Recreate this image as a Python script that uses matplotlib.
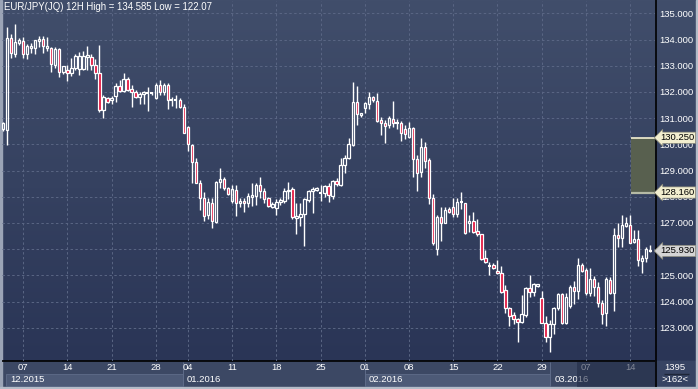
import numpy as np
import matplotlib
matplotlib.use("Agg")
import matplotlib.pyplot as plt
from matplotlib.patches import Rectangle
from matplotlib.colors import LinearSegmentedColormap

plt.rcParams['font.family'] = ['Liberation Sans', 'DejaVu Sans']

title = "EUR/JPY(JQ) 12H High = 134.585 Low = 122.07"

# 12H candles, oldest first
opens = [130.60, 130.55, 134.05, 133.45, 133.85, 133.94, 133.43, 133.66, 133.66, 133.94,
         134.02, 133.66, 133.66, 133.03, 133.63, 132.77, 132.83, 132.74, 132.90, 132.86,
         132.86, 133.33, 133.34, 133.02, 132.71, 131.31, 131.78, 131.70, 131.84, 132.24,
         132.05, 132.48, 132.12, 131.98, 131.82, 131.93, 131.96, 131.95, 131.75, 132.26,
         132.00, 132.26, 131.69, 131.70, 131.71, 131.43, 130.67, 129.97, 129.31, 128.54,
         127.94, 127.30, 127.77, 127.04, 128.57, 128.66, 128.32, 127.85, 128.25, 127.75,
         127.84, 127.75, 128.00, 128.03, 128.45, 128.23, 127.94, 127.62, 127.58, 127.78,
         127.85, 128.20, 128.29, 127.20, 127.24, 127.33, 127.87, 128.20, 128.26, 128.15,
         128.16, 128.41, 128.04, 128.60, 128.45, 129.21, 129.46, 129.97, 131.60, 131.10,
         131.40, 131.54, 131.79, 131.66, 130.93, 130.82, 130.74, 130.95, 130.80, 130.80,
         130.57, 130.29, 130.61, 129.43, 128.96, 129.88, 129.40, 127.96, 126.00, 127.21,
         127.00, 127.52, 127.62, 127.33, 127.78, 127.75, 127.00, 127.07, 126.69, 126.56,
         125.65, 125.36, 125.40, 125.17, 125.08, 124.44, 123.74, 123.49, 123.32, 123.23,
         123.49, 124.50, 124.38, 124.60, 124.12, 123.19, 122.63, 123.13, 123.74, 124.29,
         123.19, 123.83, 124.57, 124.41, 125.39, 125.20, 124.31, 124.86, 124.54, 123.96,
         123.58, 124.82, 124.34, 126.54, 126.41, 126.90, 126.92, 126.26, 126.38, 125.56,
         125.68, 125.95]
highs = [130.85, 134.49, 134.21, 134.585, 134.05, 134.10, 133.82, 133.85, 134.00, 134.15,
         134.15, 134.08, 133.72, 133.70, 133.69, 133.00, 133.02, 133.28, 133.43, 133.51,
         133.56, 133.75, 133.43, 133.25, 133.79, 131.90, 131.82, 131.86, 132.33, 132.45,
         132.74, 132.57, 132.25, 132.07, 132.00, 132.02, 132.20, 132.00, 132.33, 132.45,
         132.33, 132.33, 131.82, 131.88, 131.78, 131.52, 130.70, 130.03, 129.48, 128.63,
         128.19, 127.94, 127.96, 128.60, 129.08, 128.74, 128.38, 128.45, 128.45, 127.97,
         127.94, 128.13, 128.54, 128.51, 128.76, 128.35, 128.00, 127.79, 127.93, 127.94,
         128.32, 128.55, 128.36, 127.75, 127.75, 127.94, 128.25, 128.38, 128.36, 128.45,
         128.45, 128.51, 128.64, 128.70, 129.46, 129.59, 130.23, 132.37, 132.24, 131.21,
         131.63, 131.98, 131.84, 131.95, 131.05, 130.93, 131.08, 131.65, 130.95, 130.90,
         130.74, 130.84, 130.65, 129.59, 130.23, 130.10, 129.46, 128.10, 127.30, 127.62,
         127.62, 127.62, 127.94, 127.96, 128.17, 127.77, 127.30, 127.40, 127.14, 126.58,
         125.97, 125.52, 125.46, 125.58, 125.36, 124.63, 123.80, 123.61, 123.39, 124.25,
         124.57, 125.01, 124.70, 124.68, 124.41, 123.45, 123.29, 123.80, 124.34, 124.34,
         124.31, 124.63, 124.80, 125.65, 125.46, 125.27, 125.27, 124.97, 124.73, 124.06,
         124.92, 124.92, 126.79, 126.98, 127.30, 127.21, 127.30, 126.73, 126.73, 125.78,
         126.09, 126.16]
lows = [130.50, 129.98, 133.28, 133.33, 133.79, 133.30, 133.24, 133.47, 133.43, 133.73,
        133.47, 133.56, 132.75, 132.92, 132.58, 132.68, 132.43, 132.59, 132.83, 132.66,
        132.83, 132.83, 132.83, 132.49, 131.24, 130.99, 131.56, 131.53, 131.62, 132.00,
        131.99, 132.03, 131.43, 131.76, 131.53, 131.53, 131.29, 131.90, 131.72, 131.88,
        131.88, 131.35, 131.47, 131.40, 131.40, 130.42, 129.73, 128.54, 128.51, 127.50,
        127.07, 127.15, 126.80, 127.00, 128.32, 128.27, 128.06, 127.77, 127.28, 127.62,
        127.43, 127.60, 127.66, 127.68, 127.94, 127.77, 127.60, 127.58, 127.30, 127.68,
        127.75, 127.90, 127.14, 126.58, 126.88, 126.12, 127.81, 127.39, 128.22, 127.85,
        128.00, 127.81, 127.90, 128.41, 128.41, 128.89, 129.43, 129.93, 130.74, 131.05,
        131.18, 131.33, 131.60, 130.86, 130.35, 130.04, 130.61, 130.65, 130.60, 130.14,
        130.22, 130.23, 128.74, 128.23, 128.76, 129.08, 127.72, 126.16, 125.78, 126.32,
        126.98, 127.37, 127.24, 127.24, 127.53, 126.58, 126.66, 126.60, 126.50, 125.58,
        125.46, 125.01, 125.23, 125.05, 124.34, 123.58, 123.08, 123.13, 122.47, 123.19,
        123.42, 124.19, 124.22, 124.55, 123.17, 122.47, 122.09, 122.75, 123.68, 123.14,
        123.14, 123.77, 123.91, 124.08, 125.14, 124.25, 124.21, 124.21, 123.80, 123.13,
        123.08, 124.29, 123.65, 126.07, 126.07, 126.86, 126.22, 126.22, 125.36, 125.10,
        125.52, 125.90]
closes = [130.80, 134.05, 133.47, 133.92, 133.97, 133.43, 133.75, 133.75, 133.98, 134.02,
          133.75, 133.75, 133.05, 133.62, 132.77, 132.99, 132.74, 132.90, 133.38, 133.38,
          133.38, 133.40, 133.02, 132.71, 131.31, 131.80, 131.60, 131.78, 132.24, 132.05,
          132.48, 132.07, 131.98, 131.82, 131.93, 131.98, 131.98, 131.97, 132.26, 132.00,
          132.26, 131.69, 131.70, 131.71, 131.43, 130.45, 130.00, 129.31, 128.54, 127.94,
          127.26, 127.78, 127.07, 128.57, 128.66, 128.32, 128.09, 128.29, 127.75, 127.84,
          127.75, 128.03, 128.07, 128.45, 128.23, 127.90, 127.66, 127.71, 127.78, 127.87,
          128.23, 128.26, 127.24, 127.28, 127.34, 127.90, 128.23, 128.28, 128.32, 128.17,
          128.41, 128.07, 128.60, 128.47, 129.21, 129.46, 130.01, 131.60, 131.14, 131.18,
          131.56, 131.79, 131.69, 130.90, 130.80, 130.71, 131.02, 130.80, 130.80, 130.44,
          130.38, 130.61, 129.43, 128.89, 129.88, 129.38, 127.97, 126.22, 127.21, 127.01,
          127.49, 127.40, 127.34, 127.79, 127.80, 126.60, 127.07, 126.67, 126.56, 125.62,
          125.52, 125.37, 125.27, 125.08, 124.38, 123.77, 123.46, 123.32, 123.23, 123.51,
          124.50, 124.38, 124.66, 124.66, 123.19, 122.63, 123.13, 123.74, 124.29, 123.19,
          124.19, 124.57, 124.41, 125.39, 125.18, 124.31, 124.86, 124.54, 123.93, 123.52,
          124.85, 124.34, 126.54, 126.41, 126.92, 126.98, 126.25, 126.38, 125.58, 125.68,
          125.99, 125.93]

tick_pos = [5, 16, 27, 38, 46, 57, 68, 79, 90, 101, 112, 123, 134, 145, 156]
tick_labels = ['07', '14', '21', '28', '04', '11', '18', '25', '01', '08', '15', '22', '29', '07', '14']
month_labels = ['12.2015', '01.2016', '02.2016', '03.2016']
month_edges = [0.7, 44.7, 90.0, 136.1, 162.2]
price_ticks = np.arange(123, 136)

zone_top = 130.25
zone_bottom = 128.16
zone_start = 156.2
last_price = 125.93
total_bars = 1395
dim_from = 142.8

W, H = 698, 389
FS = 6.8


def frac(x0, y0, x1, y1):
    return [x0 / W, 1 - y1 / H, (x1 - x0) / W, (y1 - y0) / H]


fig = plt.figure(figsize=(W / 100, H / 100), dpi=100)
fig.patch.set_facecolor('#3c4864')

# background
bg = fig.add_axes([0, 0, 1, 1], zorder=0)
bg.set_xlim(0, W)
bg.set_ylim(H, 0)
bg.axis('off')
cmap = LinearSegmentedColormap.from_list('bg', ['#414e6b', '#2a3556'])
bg.imshow(np.linspace(0, 1, 256).reshape(-1, 1), cmap=cmap, extent=[0, W, 361, 0], aspect='auto')
bg.add_patch(Rectangle((0, 361), W, 28, color='#3c4864'))
bg.add_patch(Rectangle((655, 361), 41, 26, color='#374463'))
bg.add_patch(Rectangle((0, 0), 2, H, color='#9ba4b6'))
bg.add_patch(Rectangle((0, 387), W, 2, color='#b4bcc8'))
bg.add_patch(Rectangle((696, 0), 2, H, color='#b4bcc8'))
bg.vlines(655.5, 0, 387, color='black', lw=1.2)
bg.hlines(361, 2, 655, color='black', lw=1.2)
bg.text(675, 367, str(total_bars), color='white', fontsize=FS, ha='center', va='center', zorder=5)
bg.hlines(373.5, 664, 689, color='#1e2638', lw=1)
bg.text(675, 379.5, '>%d<' % len(opens), color='white', fontsize=FS, ha='center', va='center', zorder=5)

# price panel
ax = fig.add_axes(frac(2, 1, 655, 361), zorder=1)
ax.set_facecolor('none')
ax.set_xlim(-0.25, 162.2)
ax.set_ylim(121.73, 135.47)
for s in ax.spines.values():
    s.set_visible(False)
ax.set_xticks(tick_pos)
ax.set_yticks(price_ticks)
ax.grid(color='#5a6684', linestyle=(0, (2.5, 2.5)), lw=0.7)
ax.tick_params(axis='x', length=0, labelbottom=False)
ax.yaxis.tick_right()
ax.tick_params(axis='y', length=0, pad=3, labelsize=FS, labelcolor='white')
ax.set_yticklabels(['%.3f' % p for p in price_ticks])

bw = 0.6
for i, (o, h, l, c) in enumerate(zip(opens, highs, lows, closes)):
    top, bot = max(o, c), min(o, c)
    ax.vlines(i, bot, l, color='white', lw=1.0, zorder=3)
    ax.vlines(i, top, h, color='white', lw=1.0, zorder=3)
    if top - bot < 0.03:
        ax.hlines((o + c) / 2, i - bw / 2 - 0.1, i + bw / 2 + 0.1, color='white', lw=1.5, zorder=4)
    else:
        ax.add_patch(Rectangle((i - bw / 2, bot), bw, top - bot,
                               facecolor='#e3133d' if c < o else 'none',
                               edgecolor='white', lw=0.9, zorder=4))

ax.add_patch(Rectangle((zone_start, zone_bottom), 163 - zone_start, zone_top - zone_bottom,
                       facecolor='#58604f', edgecolor='none', zorder=2))
ax.hlines(zone_top, zone_start, 163, color='#f4efd2', lw=1.2, zorder=2.5)
ax.hlines(zone_bottom, zone_start, 163, color='#b5baa5', lw=1.6, zorder=2.5)

ytr = ax.get_yaxis_transform()
for price, fc in [(zone_top, '#f2eecf'), (zone_bottom, '#f2eecf'), (last_price, '#d4d4d4')]:
    ax.text(1.008, price, '%.3f' % price, transform=ytr, ha='left', va='center',
            fontsize=FS, color='black', clip_on=False, zorder=6,
            bbox=dict(boxstyle='larrow,pad=0.12', fc=fc, ec='#8a8a7a', lw=0.5))

fig.text(3.5 / W, 1 - 7.5 / H, title, color='white', fontsize=6.9, ha='left', va='center')

# date band
dax = fig.add_axes(frac(2, 361.5, 655, 387), zorder=2)
dax.set_xlim(ax.get_xlim())
dax.set_ylim(25.5, 0)
dax.axis('off')
for k, lab in enumerate(month_labels):
    x0, x1 = month_edges[k], month_edges[k + 1]
    if k % 2 == 0:
        dax.add_patch(Rectangle((x0, 12), x1 - x0, 12.5, facecolor='#4d5a77',
                                edgecolor='#5f6c89', lw=0.6))
    dax.text(x0 + 1.05, 18.5, lab, color='white', fontsize=FS, ha='left', va='center')
dax.vlines(month_edges[1:4], 0, 25.5, color='#5f6c89', lw=0.7)
for p, lab in zip(tick_pos, tick_labels):
    dax.text(p, 6.5, lab, color='white', fontsize=FS, ha='center', va='center')
dax.add_patch(Rectangle((dim_from, 0), month_edges[-1] - dim_from, 25.5,
                        facecolor='#1f2944', alpha=0.55, edgecolor='none', zorder=5))

fig.savefig('out.png', dpi=100, facecolor=fig.get_facecolor())
